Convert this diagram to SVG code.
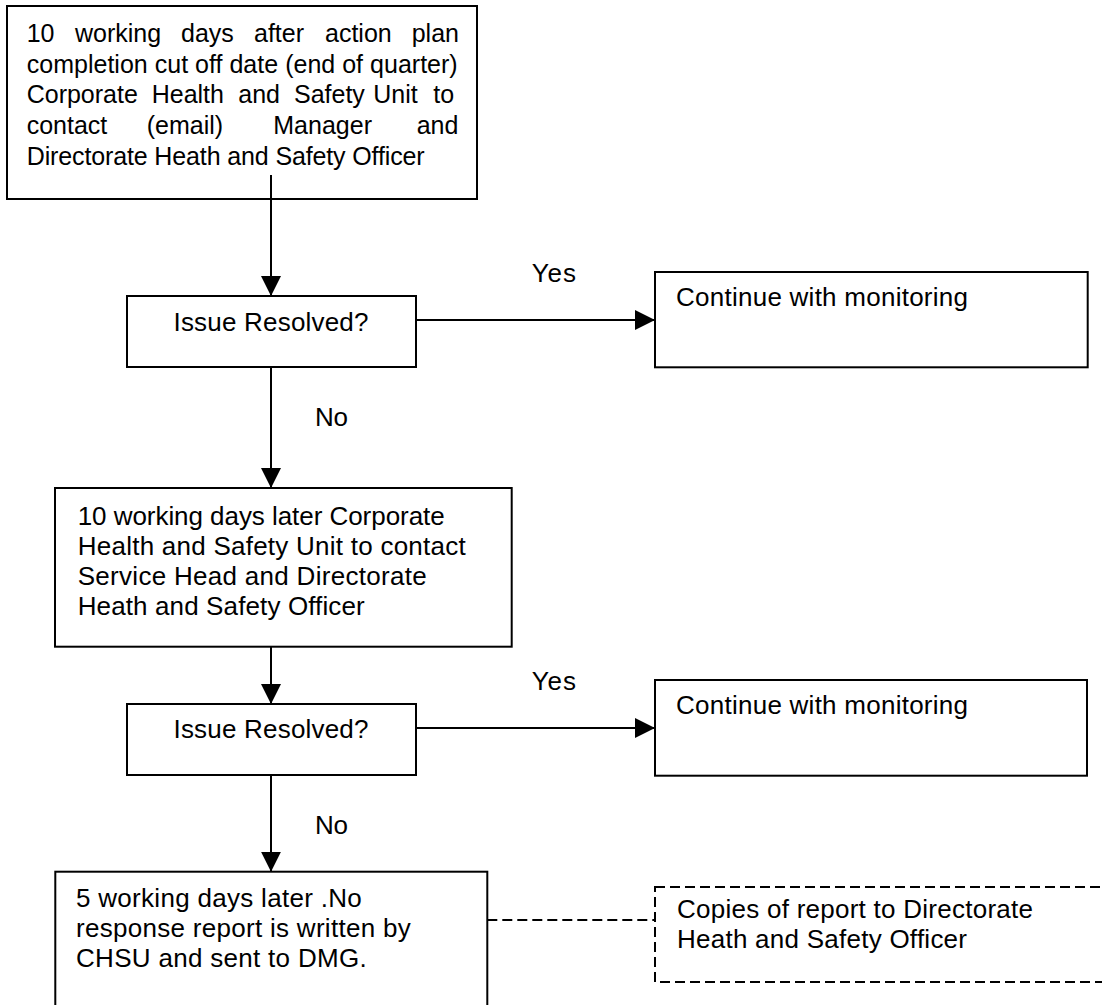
<svg xmlns="http://www.w3.org/2000/svg" width="1102" height="1005" viewBox="0 0 1102 1005">
<style>
text{font-family:"Liberation Sans",Arial,sans-serif;font-size:26px;fill:#000}
.t25{font-size:25px}
.box{fill:#fff;stroke:#000;stroke-width:2}
.dbox{fill:#fff;stroke:#000;stroke-width:2;stroke-dasharray:10 5}
.conn{fill:none;stroke:#000;stroke-width:2}
.dash{fill:none;stroke:#000;stroke-width:2;stroke-dasharray:10 5}
</style>
<defs>
<marker id="ah" markerUnits="userSpaceOnUse" markerWidth="22" markerHeight="22" refX="20" refY="10" orient="auto">
<path d="M0,0 L20,10 L0,20 Z" fill="#000"/>
</marker>
</defs>
<rect width="1102" height="1005" fill="#fff"/>

<g id="node-start">
<rect class="box" x="7" y="6" width="470" height="193"/>
<text class="t25" y="41.7"><tspan x="26.7">10</tspan><tspan x="75">working</tspan><tspan x="181">days</tspan><tspan x="254">after</tspan><tspan x="325">action</tspan><tspan x="411.7">plan</tspan></text>
<text class="t25" x="26.7" y="72.5" textLength="431" lengthAdjust="spacing">completion cut off date (end of quarter)</text>
<text class="t25" y="103.3"><tspan x="26.7">Corporate</tspan><tspan x="151.7">Health</tspan><tspan x="238.3">and</tspan><tspan x="294">Safety</tspan><tspan x="373.3">Unit</tspan><tspan x="433.3">to</tspan></text>
<text class="t25" y="134.1"><tspan x="26.7">contact</tspan><tspan x="146.7">(email)</tspan><tspan x="273.3">Manager</tspan><tspan x="416.7">and</tspan></text>
<text class="t25" x="26.7" y="164.9" textLength="398" lengthAdjust="spacing">Directorate Heath and Safety Officer</text>
</g>

<g id="node-issue1">
<rect class="box" x="127" y="296" width="289" height="71"/>
<text x="271" y="330.7" text-anchor="middle" textLength="195" lengthAdjust="spacing">Issue Resolved?</text>
</g>

<g id="node-continue1">
<rect class="box" x="655" y="272" width="432.7" height="95.3"/>
<text x="676" y="306" textLength="292" lengthAdjust="spacing">Continue with monitoring</text>
</g>

<g id="node-contact2">
<rect class="box" x="55" y="488" width="456.7" height="158.7"/>
<text x="77.7" y="525" textLength="367" lengthAdjust="spacing">10 working days later Corporate</text>
<text x="77.7" y="555" textLength="388" lengthAdjust="spacing">Health and Safety Unit to contact</text>
<text x="77.7" y="585" textLength="349" lengthAdjust="spacing">Service Head and Directorate</text>
<text x="77.7" y="615" textLength="287" lengthAdjust="spacing">Heath and Safety Officer</text>
</g>

<g id="node-issue2">
<rect class="box" x="127" y="704" width="289" height="71"/>
<text x="271" y="738.3" text-anchor="middle" textLength="195" lengthAdjust="spacing">Issue Resolved?</text>
</g>

<g id="node-continue2">
<rect class="box" x="655" y="680" width="432" height="95.7"/>
<text x="676" y="713.5" textLength="292" lengthAdjust="spacing">Continue with monitoring</text>
</g>

<g id="node-report">
<rect class="box" x="55.3" y="871.7" width="432" height="200"/>
<text x="76" y="907" textLength="285.7" lengthAdjust="spacing">5 working days later .No</text>
<text x="76" y="937" textLength="334.7" lengthAdjust="spacing">response report is written by</text>
<text x="76" y="967" textLength="290.7" lengthAdjust="spacing">CHSU and sent to DMG.</text>
</g>

<g id="node-copies">
<rect class="dbox" x="655" y="887" width="470" height="95"/>
<text x="677" y="918" textLength="356" lengthAdjust="spacing">Copies of report to Directorate</text>
<text x="677" y="948" textLength="290" lengthAdjust="spacing">Heath and Safety Officer</text>
</g>

<g id="connectors">
<line class="conn" x1="271" y1="175" x2="271" y2="296" marker-end="url(#ah)"/>
<line class="conn" x1="416" y1="320" x2="655" y2="320" marker-end="url(#ah)"/>
<line class="conn" x1="271" y1="367" x2="271" y2="488" marker-end="url(#ah)"/>
<line class="conn" x1="271" y1="647" x2="271" y2="704" marker-end="url(#ah)"/>
<line class="conn" x1="416" y1="728" x2="655" y2="728" marker-end="url(#ah)"/>
<line class="conn" x1="271" y1="775" x2="271" y2="871.7" marker-end="url(#ah)"/>
<line class="dash" x1="487.3" y1="920" x2="655" y2="920"/>
<text x="531.7" y="282" textLength="44.3" lengthAdjust="spacing">Yes</text>
<text x="315" y="426" textLength="33" lengthAdjust="spacing">No</text>
<text x="531.7" y="690" textLength="44.3" lengthAdjust="spacing">Yes</text>
<text x="315" y="834" textLength="33" lengthAdjust="spacing">No</text>
</g>
</svg>
